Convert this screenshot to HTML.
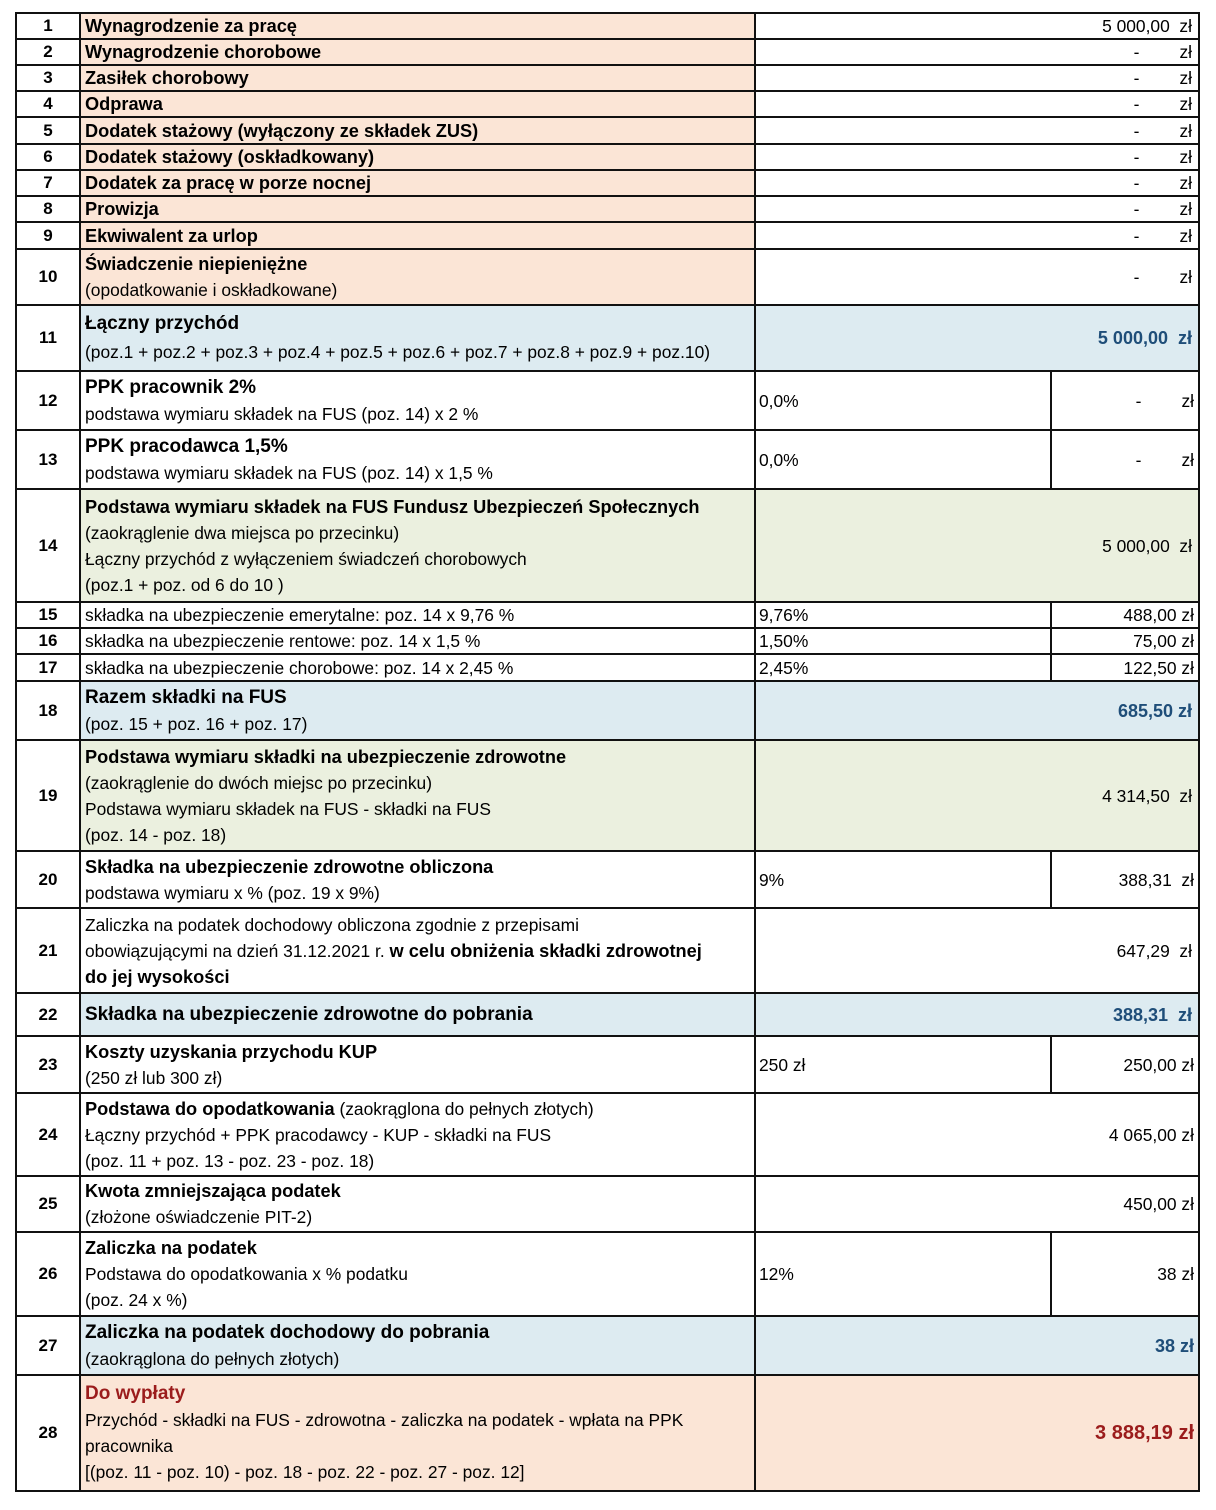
<!DOCTYPE html>
<html><head><meta charset="utf-8"><style>
body{margin:0;width:1216px;height:1510px;background:#fff;position:relative;font-family:"Liberation Sans",sans-serif;color:#000;overflow:hidden}
.r{position:absolute;left:15px;width:1181px;border:2px solid #111;border-top:none;box-sizing:content-box}
.c{position:absolute;top:0;bottom:0;display:flex;flex-direction:column;justify-content:center;box-sizing:border-box;line-height:26px;font-size:17.4px;white-space:nowrap}
.n{left:0;width:62px;align-items:center;font-weight:bold;font-size:17px;background:#fff}
.l{left:62px;width:675px;border-left:2px solid #111;padding-left:4px;background:#fbe5d6}
.v{left:737px;right:0;border-left:2px solid #111;align-items:flex-end;padding-right:6px;background:#fff}
.a{left:737px;width:296px;border-left:2px solid #111;padding-left:3px;background:#fff}
.b{left:1033px;right:0;border-left:2px solid #111;align-items:flex-end;padding-right:4px;background:#fff}
.w{background:#fff}.bl{background:#ddebf1}.gr{background:#ebf0df}.pe{background:#fbe5d6}
b{font-weight:bold;font-size:18.2px}
.t{font-size:19px;font-weight:bold}
.blu{color:#1f4e79;font-weight:bold;font-size:18px}
.red{color:#9b1c1c;font-weight:bold}
.d{display:inline-block;width:40px;text-align:left}
</style></head><body>
<div class="r" style="top:12px;height:24px;border-top:2px solid #111"><div class="c n">1</div><div class="c l"><b>Wynagrodzenie za pracę</b></div><div class="c v">5 000,00&nbsp;&nbsp;zł</div></div>
<div class="r" style="top:40px;height:24px"><div class="c n">2</div><div class="c l"><b>Wynagrodzenie chorobowe</b></div><div class="c v"><span>-<span class="d"></span>zł</span></div></div>
<div class="r" style="top:66px;height:24px"><div class="c n">3</div><div class="c l"><b>Zasiłek chorobowy</b></div><div class="c v"><span>-<span class="d"></span>zł</span></div></div>
<div class="r" style="top:92px;height:24px"><div class="c n">4</div><div class="c l"><b>Odprawa</b></div><div class="c v"><span>-<span class="d"></span>zł</span></div></div>
<div class="r" style="top:118px;height:25px"><div class="c n">5</div><div class="c l"><b>Dodatek stażowy (wyłączony ze składek ZUS)</b></div><div class="c v"><span>-<span class="d"></span>zł</span></div></div>
<div class="r" style="top:145px;height:24px"><div class="c n">6</div><div class="c l"><b>Dodatek stażowy (oskładkowany)</b></div><div class="c v"><span>-<span class="d"></span>zł</span></div></div>
<div class="r" style="top:171px;height:24px"><div class="c n">7</div><div class="c l"><b>Dodatek za pracę w porze nocnej</b></div><div class="c v"><span>-<span class="d"></span>zł</span></div></div>
<div class="r" style="top:197px;height:24px"><div class="c n">8</div><div class="c l"><b>Prowizja</b></div><div class="c v"><span>-<span class="d"></span>zł</span></div></div>
<div class="r" style="top:223px;height:25px"><div class="c n">9</div><div class="c l"><b>Ekwiwalent za urlop</b></div><div class="c v"><span>-<span class="d"></span>zł</span></div></div>
<div class="r" style="top:250px;height:54px"><div class="c n">10</div><div class="c l"><b>Świadczenie niepieniężne</b><span>(opodatkowanie i oskładkowane)</span></div><div class="c v"><span>-<span class="d"></span>zł</span></div></div>
<div class="r" style="top:306px;height:64px"><div class="c n">11</div><div class="c l bl"><span class="t" style="line-height:28px">Łączny przychód</span><span style="line-height:28px">(poz.1 + poz.2 + poz.3 + poz.4 + poz.5 + poz.6 + poz.7 + poz.8 + poz.9 + poz.10)</span></div><div class="c v bl"><span class="blu">5 000,00&nbsp;&nbsp;zł</span></div></div>
<div class="r" style="top:372px;height:57px"><div class="c n">12</div><div class="c l w"><span class="t">PPK pracownik 2%</span><span>podstawa wymiaru składek na FUS (poz. 14) x 2 %</span></div><div class="c a">0,0%</div><div class="c b"><span>-<span class="d"></span>zł</span></div></div>
<div class="r" style="top:431px;height:57px"><div class="c n">13</div><div class="c l w"><span class="t">PPK pracodawca 1,5%</span><span>podstawa wymiaru składek na FUS (poz. 14) x 1,5 %</span></div><div class="c a">0,0%</div><div class="c b"><span>-<span class="d"></span>zł</span></div></div>
<div class="r" style="top:490px;height:111px"><div class="c n">14</div><div class="c l gr"><b>Podstawa wymiaru składek na FUS Fundusz Ubezpieczeń Społecznych</b><span>(zaokrąglenie dwa miejsca po przecinku)</span><span>Łączny przychód z wyłączeniem świadczeń chorobowych</span><span>(poz.1 + poz. od 6 do 10 )</span></div><div class="c v gr">5 000,00&nbsp;&nbsp;zł</div></div>
<div class="r" style="top:603px;height:24px"><div class="c n">15</div><div class="c l w">składka na ubezpieczenie emerytalne: poz. 14 x 9,76 %</div><div class="c a">9,76%</div><div class="c b">488,00 zł</div></div>
<div class="r" style="top:629px;height:24px"><div class="c n">16</div><div class="c l w">składka na ubezpieczenie rentowe: poz. 14 x 1,5 %</div><div class="c a">1,50%</div><div class="c b">75,00 zł</div></div>
<div class="r" style="top:655px;height:25px"><div class="c n">17</div><div class="c l w">składka na ubezpieczenie chorobowe: poz. 14 x 2,45 %</div><div class="c a">2,45%</div><div class="c b">122,50 zł</div></div>
<div class="r" style="top:682px;height:57px"><div class="c n">18</div><div class="c l bl"><span class="t">Razem składki na FUS</span><span>(poz. 15 + poz. 16 + poz. 17)</span></div><div class="c v bl"><span class="blu">685,50 zł</span></div></div>
<div class="r" style="top:741px;height:109px"><div class="c n">19</div><div class="c l gr"><b>Podstawa wymiaru składki na ubezpieczenie zdrowotne</b><span>(zaokrąglenie do dwóch miejsc po przecinku)</span><span>Podstawa wymiaru składek na FUS - składki na FUS</span><span>(poz. 14 - poz. 18)</span></div><div class="c v gr">4 314,50&nbsp;&nbsp;zł</div></div>
<div class="r" style="top:852px;height:55px"><div class="c n">20</div><div class="c l w"><b>Składka na ubezpieczenie zdrowotne obliczona</b><span>podstawa wymiaru x % (poz. 19 x 9%)</span></div><div class="c a">9%</div><div class="c b"><span>388,31&nbsp;&nbsp;zł</span></div></div>
<div class="r" style="top:909px;height:83px"><div class="c n">21</div><div class="c l w"><span>Zaliczka na podatek dochodowy obliczona zgodnie z przepisami</span><span>obowiązującymi na dzień 31.12.2021 r. <b>w celu obniżenia składki zdrowotnej</b></span><b>do jej wysokości</b></div><div class="c v">647,29&nbsp;&nbsp;zł</div></div>
<div class="r" style="top:994px;height:41px"><div class="c n">22</div><div class="c l bl"><span class="t">Składka na ubezpieczenie zdrowotne do pobrania</span></div><div class="c v bl"><span class="blu">388,31&nbsp;&nbsp;zł</span></div></div>
<div class="r" style="top:1037px;height:55px"><div class="c n">23</div><div class="c l w"><b>Koszty uzyskania przychodu KUP</b><span>(250 zł lub 300 zł)</span></div><div class="c a">250 zł</div><div class="c b">250,00 zł</div></div>
<div class="r" style="top:1094px;height:81px"><div class="c n">24</div><div class="c l w"><span><b>Podstawa do opodatkowania</b> (zaokrąglona do pełnych złotych)</span><span>Łączny przychód + PPK pracodawcy - KUP - składki na FUS</span><span>(poz. 11 + poz. 13 - poz. 23 - poz. 18)</span></div><div class="c v" style="padding-right:4px">4 065,00 zł</div></div>
<div class="r" style="top:1177px;height:54px"><div class="c n">25</div><div class="c l w"><b>Kwota zmniejszająca podatek</b><span>(złożone oświadczenie PIT-2)</span></div><div class="c v" style="padding-right:4px">450,00 zł</div></div>
<div class="r" style="top:1233px;height:82px"><div class="c n">26</div><div class="c l w"><b>Zaliczka na podatek</b><span>Podstawa do opodatkowania x % podatku</span><span>(poz. 24 x %)</span></div><div class="c a">12%</div><div class="c b">38 zł</div></div>
<div class="r" style="top:1317px;height:57px"><div class="c n">27</div><div class="c l bl"><span class="t">Zaliczka na podatek dochodowy do pobrania</span><span>(zaokrąglona do pełnych złotych)</span></div><div class="c v bl" style="padding-right:4px"><span class="blu">38 zł</span></div></div>
<div class="r" style="top:1376px;height:114px"><div class="c n">28</div><div class="c l pe"><span class="t red">Do wypłaty</span><span>Przychód - składki na FUS - zdrowotna - zaliczka na podatek - wpłata na PPK</span><span>pracownika</span><span>[(poz. 11 - poz. 10) - poz. 18 - poz. 22 - poz. 27 - poz. 12]</span></div><div class="c v pe" style="padding-right:4px"><span class="red" style="font-size:20px">3 888,19 zł</span></div></div>
</body></html>
